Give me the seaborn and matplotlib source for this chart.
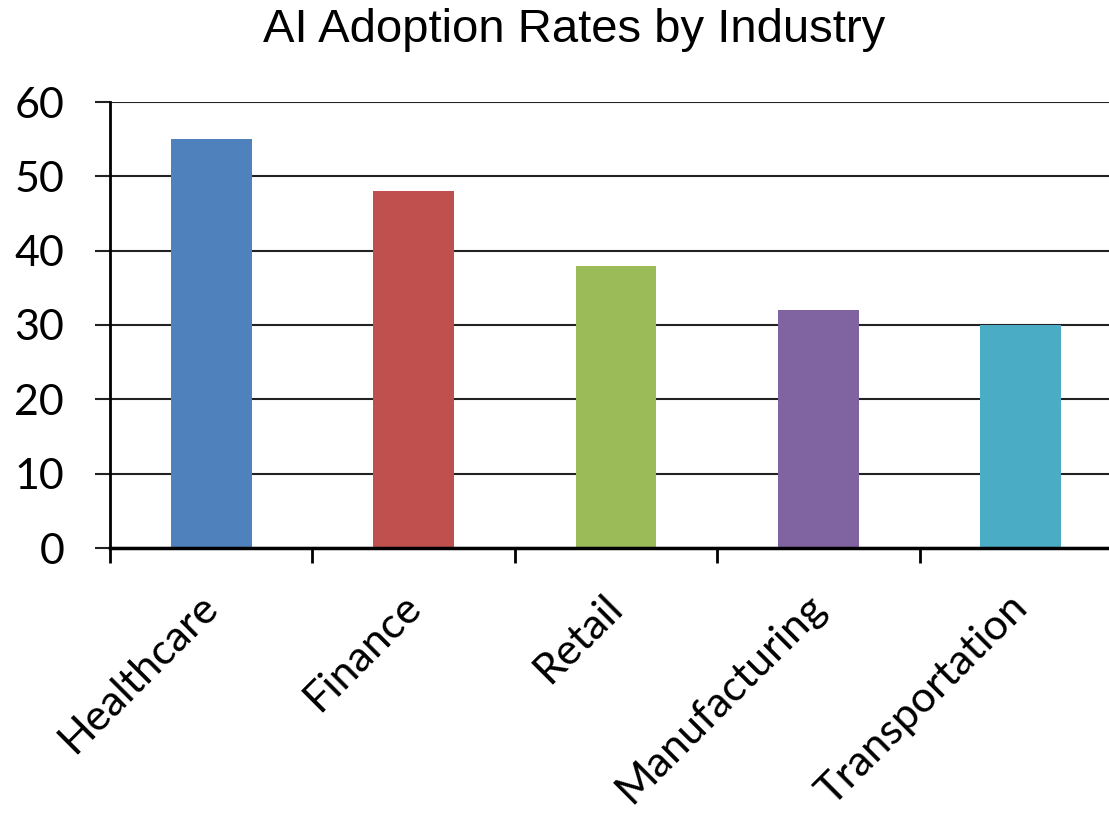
import matplotlib.pyplot as plt
import matplotlib.transforms as mtransforms
import seaborn as sns
import pandas as pd
from matplotlib.ticker import FixedLocator

# Data
industries = ["Healthcare", "Finance", "Retail", "Manufacturing", "Transportation"]
adoption = [55, 48, 38, 32, 30]
colors = ["#4F81BD", "#C0504D", "#9BBB59", "#8064A2", "#4BACC6"]

df = pd.DataFrame({"industry": industries, "rate": adoption})

sns.set_style("white")
plt.rcParams["font.family"] = ["Lato", "DejaVu Sans"]
plt.rcParams["text.color"] = "black"
plt.rcParams["xtick.color"] = "black"
plt.rcParams["ytick.color"] = "black"

fig = plt.figure(figsize=(11.09, 8.15), dpi=100)
ax = fig.add_axes([110 / 1109, 1 - 548 / 815, 1012 / 1109, 446 / 815])

sns.barplot(data=df, x="industry", y="rate", hue="industry", palette=colors,
            width=0.4, saturation=1, legend=False, linewidth=0, ax=ax)

ax.set_xlim(-0.5, 4.5)
ax.set_ylim(0, 60)
ax.set_yticks(range(0, 61, 10))
ax.yaxis.grid(True, color="#222222", linewidth=1.5)
ax.set_axisbelow(True)

for s in ["top", "right"]:
    ax.spines[s].set_visible(False)
ax.spines["left"].set_color("black")
ax.spines["left"].set_linewidth(2)
ax.spines["bottom"].set_color("black")
ax.spines["bottom"].set_linewidth(2.5)

ax.tick_params(axis="y", direction="out", length=11, width=1.5, color="#222222",
               labelsize=31, pad=22, left=True, labelcolor="black")
ax.tick_params(axis="x", which="major", length=0, labelsize=31, pad=14,
               labelcolor="black")
ax.xaxis.set_minor_locator(FixedLocator([-0.5, 0.5, 1.5, 2.5, 3.5, 4.5]))
ax.tick_params(axis="x", which="minor", direction="out", length=11, width=2,
               color="black", bottom=True)

# rotated labels, nudged down-left like the original
offset = mtransforms.ScaledTranslation(-13 / 100, -20 / 100, fig.dpi_scale_trans)
for lbl in ax.get_xticklabels():
    lbl.set_rotation(45)
    lbl.set_ha("right")
    lbl.set_rotation_mode("anchor")
    lbl.set_transform(lbl.get_transform() + offset)

ax.set_xlabel("")
ax.set_ylabel("")

fig.text(574 / 1109, 1 - 30 / 815, "AI Adoption Rates by Industry",
         family=["Liberation Sans", "DejaVu Sans"], fontsize=34,
         ha="center", va="center")

fig.savefig("out.png", dpi=100)
